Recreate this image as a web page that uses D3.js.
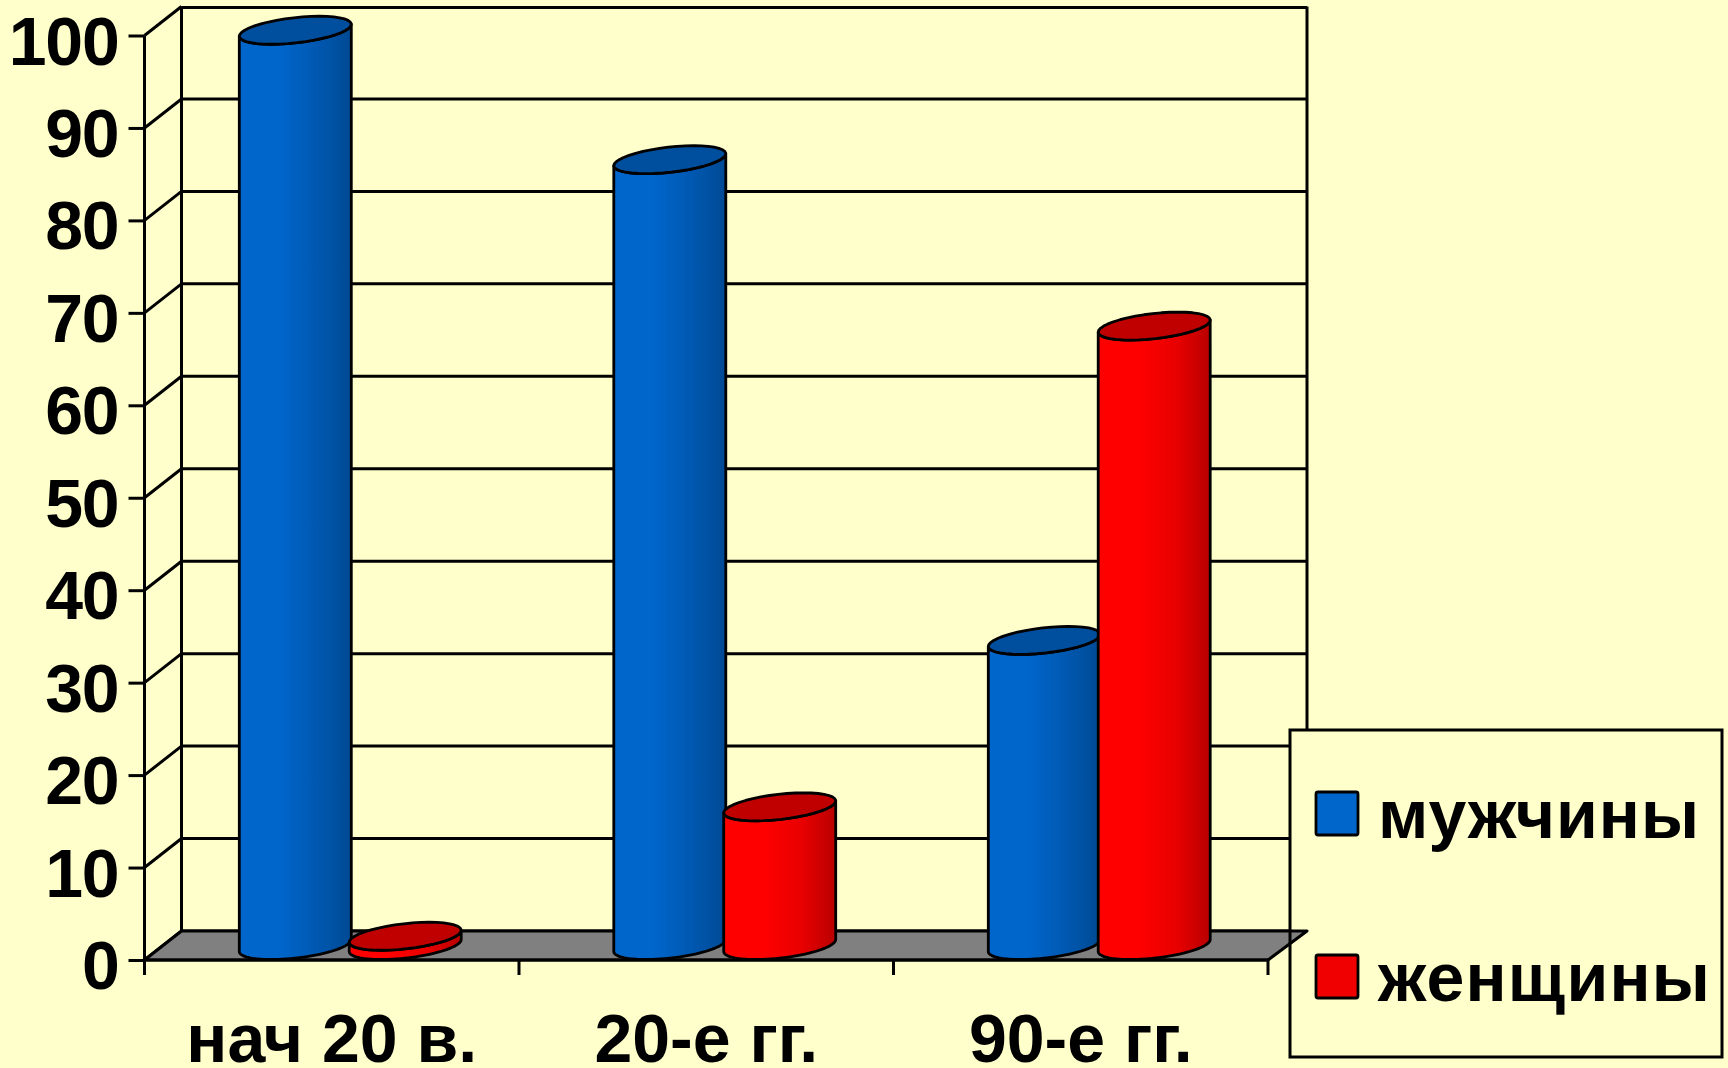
<!DOCTYPE html>
<html>
<head>
<meta charset="utf-8">
<script src="https://cdn.jsdelivr.net/npm/d3@7"></script>
<style>
  html, body { margin: 0; padding: 0; background: #ffffcc; }
  svg { display: block; }
  text { font-family: "Liberation Sans", Arial, sans-serif; font-weight: bold; fill: #000; }
</style>
</head>
<body>
<div id="chart"></div>
<script>
const categories = ["нач 20 в.", "20-е гг.", "90-е гг."];
const seriesNames = ["мужчины", "женщины"];
const men = [99, 85, 33];
const women = [1, 15, 67];
const yTicks = [0, 10, 20, 30, 40, 50, 60, 70, 80, 90, 100];

const width = 1728;
const height = 1068;
const left = 144.5;
const right = 1268;
const bottom = 960;
const top100 = 35.5;
const depthX = 37;
const depthY = 29;
const barRadius = 56;
const barDx = 24;
const barDy = 14;
const lineW = 3;

const colors = {
  "мужчины": { light: "#0066cc", mid: "#0058b0", dark: "#004a94", top: "#00509f", swatch: "#0066cc", spacing: 1 },
  "женщины": { light: "#ff0000", mid: "#e80000", dark: "#b80000", top: "#c00000", swatch: "#f00000", spacing: 1.2 },
};

let x0 = d3.scaleBand().domain(categories).range([left, right]).paddingInner(0.413).paddingOuter(0.2065);
let x1 = d3.scaleBand().domain(seriesNames).range([0, x0.bandwidth()]);
let y = d3.scaleLinear().domain([0, 100]).range([bottom, top100]);

let svg = d3.select("#chart").append("svg").attr("width", width).attr("height", height);
let defs = svg.append("defs");
defs.append("filter").attr("id", "soft").append("feGaussianBlur").attr("stdDeviation", 0.6);

seriesNames.forEach((s, i) => {
  let g = defs.append("linearGradient").attr("id", "side" + i);
  g.append("stop").attr("offset", "0%").attr("stop-color", colors[s].light);
  g.append("stop").attr("offset", "35%").attr("stop-color", colors[s].light);
  g.append("stop").attr("offset", "70%").attr("stop-color", colors[s].mid);
  g.append("stop").attr("offset", "100%").attr("stop-color", colors[s].dark);
});

let root = svg.append("g").attr("filter", "url(#soft)");

// walls and gridlines
let grid = root.append("g").attr("stroke", "#000").attr("stroke-width", lineW).attr("fill", "none");
yTicks.forEach((t) => {
  grid.append("line").attr("x1", left + depthX).attr("x2", right + depthX + 2)
    .attr("y1", y(t) - depthY + (t == 100 ? 1 : 0)).attr("y2", y(t) - depthY + (t == 100 ? 1 : 0));
  grid.append("line").attr("x1", left).attr("x2", left + depthX).attr("y1", y(t)).attr("y2", y(t) - depthY);
});
grid.append("line").attr("x1", left + depthX).attr("x2", left + depthX).attr("y1", y(100) - depthY).attr("y2", y(0) - depthY);
grid.append("line").attr("x1", right + depthX + 2).attr("x2", right + depthX + 2).attr("y1", y(100) - depthY).attr("y2", y(0) - depthY);

// legend box goes under the floor, its border back on top afterwards
const box = { x: 1290, y: 730, w: 432, h: 327 };
root.append("rect").attr("x", box.x).attr("y", box.y).attr("width", box.w).attr("height", box.h).attr("fill", "#ffffcc");

// floor sticks out over the legend
root.append("polygon")
  .attr("points", [[left, bottom], [right, bottom], [right + depthX + 2, bottom - depthY], [left + depthX, bottom - depthY]].join(" "))
  .attr("fill", "#808080").attr("stroke", "#000").attr("stroke-width", lineW).attr("stroke-linejoin", "round");

// axes
let yAxis = d3.axisLeft(y).tickValues(yTicks).tickSize(16).tickPadding(10);
let yG = root.append("g").attr("transform", `translate(${left},0)`).call(yAxis);
yG.selectAll("text").attr("font-size", 68).attr("dy", "0.42em").attr("letter-spacing", -1.2);
yG.selectAll("line").attr("stroke", "#000").attr("stroke-width", lineW);
yG.select(".domain").attr("stroke", "#000").attr("stroke-width", lineW).attr("d", `M0,${y(100)}V${y(0)}`);

let xAxis = d3.axisBottom(x0).tickSize(0).tickPadding(66);
let xG = root.append("g").attr("transform", `translate(0,${bottom})`).call(xAxis);
xG.selectAll("text").attr("font-size", 68).attr("dy", 0).attr("y", 102);
xG.select(".domain").attr("stroke", "#000").attr("stroke-width", lineW).attr("d", `M${left},0H${right}`);

// tick marks sit between categories
xG.selectAll(".edge").data(d3.range(categories.length + 1)).enter().append("line")
  .attr("x1", (i) => left + i * x0.step()).attr("x2", (i) => left + i * x0.step())
  .attr("y1", 0).attr("y2", 15).attr("stroke", "#000").attr("stroke-width", lineW);

// cylinders
const ux = Math.sqrt(barRadius * barRadius - barDx * barDx);
const sil = Math.atan2(barDx, ux);
let ringLine = d3.line();
function ringPoint(cx, cy, t) {
  return [cx + ux * Math.cos(t) + barDx * Math.sin(t), cy - barDy * Math.sin(t)];
}
function arc(cx, cy, from, to) {
  return d3.range(0, 41).map((k) => ringPoint(cx, cy, from + (to - from) * k / 40));
}
function sidePath(cx, topY, baseY) {
  let lower = arc(cx, baseY, sil + Math.PI, sil + 2 * Math.PI);
  let upper = arc(cx, topY, sil + 2 * Math.PI, sil + Math.PI);
  return ringLine(lower.concat(upper)) + "Z";
}
function topPath(cx, topY) {
  return ringLine(arc(cx, topY, 0, 2 * Math.PI)) + "Z";
}

let rows = [];
categories.forEach((c, i) => {
  rows.push({ cat: c, series: seriesNames[0], idx: 0, value: men[i] });
  rows.push({ cat: c, series: seriesNames[1], idx: 1, value: women[i] });
});

let bars = root.selectAll(".bar").data(rows).enter().append("g").attr("class", "bar")
  .attr("stroke", "#000").attr("stroke-width", 2.8).attr("stroke-linejoin", "round");

function center(d) {
  return x0(d.cat) + x1(d.series) + x1.bandwidth() / 2 + depthX / 2;
}
bars.append("path")
  .attr("d", (d) => sidePath(center(d), y(d.value) - depthY / 2, y(0) - depthY / 2))
  .attr("fill", (d) => `url(#side${d.idx})`);
bars.append("path")
  .attr("d", (d) => topPath(center(d), y(d.value) - depthY / 2))
  .attr("fill", (d) => colors[d.series].top);

// legend
let legend = root.append("g");
legend.append("rect").attr("x", box.x).attr("y", box.y).attr("width", box.w).attr("height", box.h)
  .attr("fill", "none").attr("stroke", "#000").attr("stroke-width", lineW);
let legendY = d3.scalePoint().domain(seriesNames).range([813, 976]);
let items = legend.selectAll(".item").data(seriesNames).enter().append("g")
  .attr("transform", (s) => `translate(0,${legendY(s)})`);
items.append("rect").attr("x", 1316).attr("y", -21).attr("width", 42).attr("height", 43).attr("rx", 2)
  .attr("fill", (s) => colors[s].swatch).attr("stroke", "#000").attr("stroke-width", 2.8);
items.append("text").attr("x", 1378).attr("y", 25).attr("font-size", 68)
  .attr("letter-spacing", (s) => colors[s].spacing).text((s) => s);
</script>
</body>
</html>
